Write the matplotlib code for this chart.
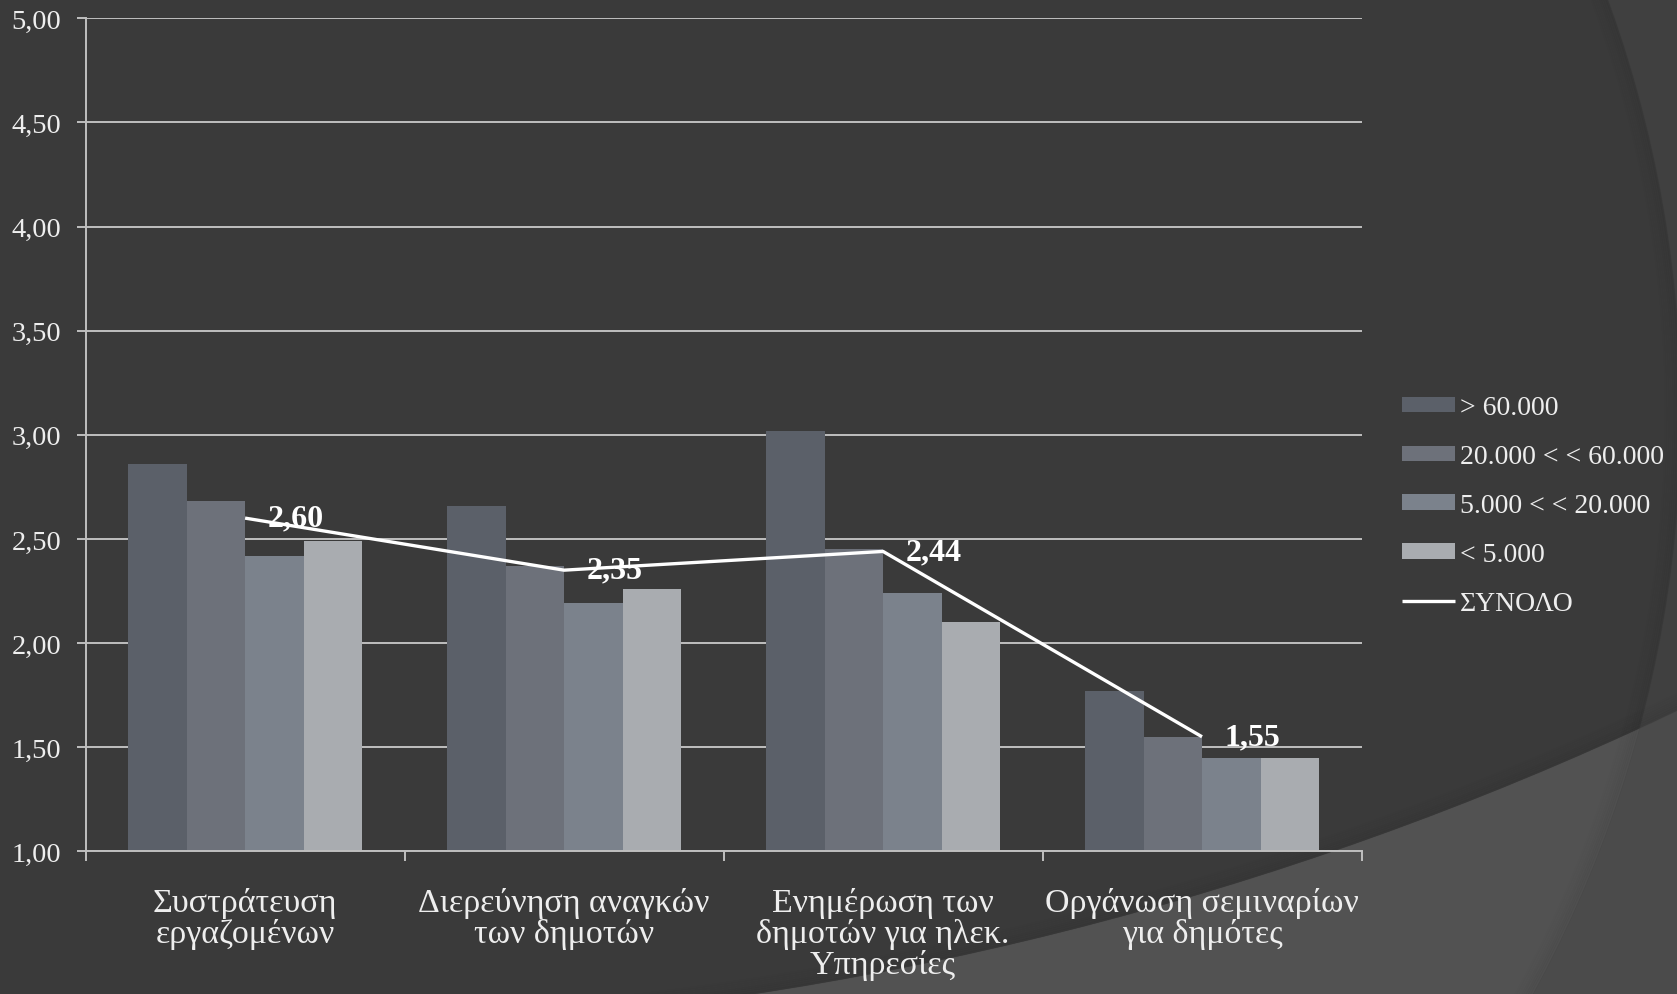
import matplotlib
matplotlib.use("Agg")
import matplotlib.pyplot as plt
from matplotlib.patches import Circle
import numpy as np

# --- data ---------------------------------------------------------------
categories = [
    "Συστράτευση\nεργαζομένων",
    "Διερεύνηση αναγκών\nτων δημοτών",
    "Ενημέρωση των\nδημοτών για ηλεκ.\nΥπηρεσίες",
    "Οργάνωση σεμιναρίων\nγια δημότες",
]
series_names = ["> 60.000", "20.000 < < 60.000", "5.000 < < 20.000", "< 5.000"]
over_60k = [2.86, 2.66, 3.02, 1.77]
from_20k_to_60k = [2.68, 2.37, 2.45, 1.55]
from_5k_to_20k = [2.42, 2.19, 2.24, 1.45]
under_5k = [2.49, 2.26, 2.10, 1.45]
total_name = "ΣΥΝΟΛΟ"
total = [2.60, 2.35, 2.44, 1.55]
y_ticks = [1.0, 1.5, 2.0, 2.5, 3.0, 3.5, 4.0, 4.5, 5.0]

series = [over_60k, from_20k_to_60k, from_5k_to_20k, under_5k]
bar_colors = ["#5B6069", "#6D717A", "#7B828C", "#A9ACB0"]

plt.rcParams["font.family"] = ["Liberation Serif", "DejaVu Serif"]

W, H = 1677, 995
fig = plt.figure(figsize=(W / 100, H / 100), dpi=100, facecolor="#4B4B4B")

# --- slide background with large arcs ----------------------------------
bg = fig.add_axes([0, 0, 1, 1], zorder=-10)
bg.set_xlim(0, W)
bg.set_ylim(H, 0)
bg.axis("off")
c1_center, c1_r = (471, 415), 1210
c2_center, c2_r = (254, -2280), 3313
bg.add_patch(Circle(c1_center, c1_r, fc="#525252", ec="none"))
c2 = Circle(c2_center, c2_r, fc="#404040", ec="none")
bg.add_patch(c2)
inner = Circle(c1_center, c1_r, fc="#3A3A3A", ec="none")
bg.add_patch(inner)
inner.set_clip_path(c2)
for i in range(8):
    bg.add_patch(Circle(c1_center, c1_r - 1 - i * 2.0, fill=False, ec="black",
                        lw=2.2, alpha=0.035 * (1 - i / 8)))
    bg.add_patch(Circle(c2_center, c2_r - 1 - i * 2.0, fill=False, ec="black",
                        lw=2.2, alpha=0.035 * (1 - i / 8)))

# --- chart --------------------------------------------------------------
ax = fig.add_axes([85.6 / W, 1 - 852.3 / H, (1361.5 - 85.6) / W, (852.3 - 19.3) / H])
ax.set_facecolor("none")

x = np.arange(len(categories))
bw = 0.1834
bar_handles = []
for k, (vals, name, col) in enumerate(zip(series, series_names, bar_colors)):
    b = ax.bar(x + (k - 1.5) * bw, np.array(vals) - 1.0, bw, bottom=1.0,
               color=col, label=name, zorder=2)
    bar_handles.append(b)

(line_handle,) = ax.plot(x, total, color="white", lw=2.4, label=total_name,
                         zorder=5, solid_capstyle="butt")
for xi, v in zip(x, total):
    ax.annotate(f"{v:.2f}".replace(".", ","), (xi, v), xytext=(16, 0),
                textcoords="offset points", ha="left", va="center",
                fontsize=23, fontweight="bold", color="white", zorder=4)

ax.set_xlim(-0.5, len(categories) - 0.5)
ax.set_ylim(1.0, 5.0)
ax.set_yticks(y_ticks)
ax.set_yticklabels([f"{v:.2f}".replace(".", ",") for v in y_ticks])
ax.set_xticks(np.arange(len(categories) + 1) - 0.5)
ax.set_xticklabels([])
ax.set_xticks(x, minor=True)
ax.set_xticklabels(categories, minor=True, fontsize=24.5, color="#EEEEEE",
                   linespacing=1.0, va="top")

grid_col = "#BFBFBF"
ax.yaxis.grid(True, color=grid_col, lw=1.4, zorder=0)
ax.set_axisbelow(True)
for s in ["top", "right"]:
    ax.spines[s].set_visible(False)
for s in ["left", "bottom"]:
    ax.spines[s].set_color(grid_col)
    ax.spines[s].set_linewidth(1.4)
ax.tick_params(axis="y", which="major", length=6.5, width=1.4, color=grid_col,
               labelcolor="#EEEEEE", labelsize=20.5, pad=11)
ax.tick_params(axis="x", which="major", length=7.5, width=1.4, color=grid_col)
ax.tick_params(axis="x", which="minor", length=0, pad=26)

fig.legend(handles=bar_handles + [line_handle],
           labels=series_names + [total_name],
           loc="center left", bbox_to_anchor=(1402 / W, 1 - 506.5 / H),
           frameon=False, fontsize=20, labelcolor="#EEEEEE",
           handlelength=1.9, handleheight=0.48, handletextpad=0.2,
           labelspacing=0.86, borderpad=0, borderaxespad=0)

fig.savefig("out.png", dpi=100, facecolor=fig.get_facecolor())
